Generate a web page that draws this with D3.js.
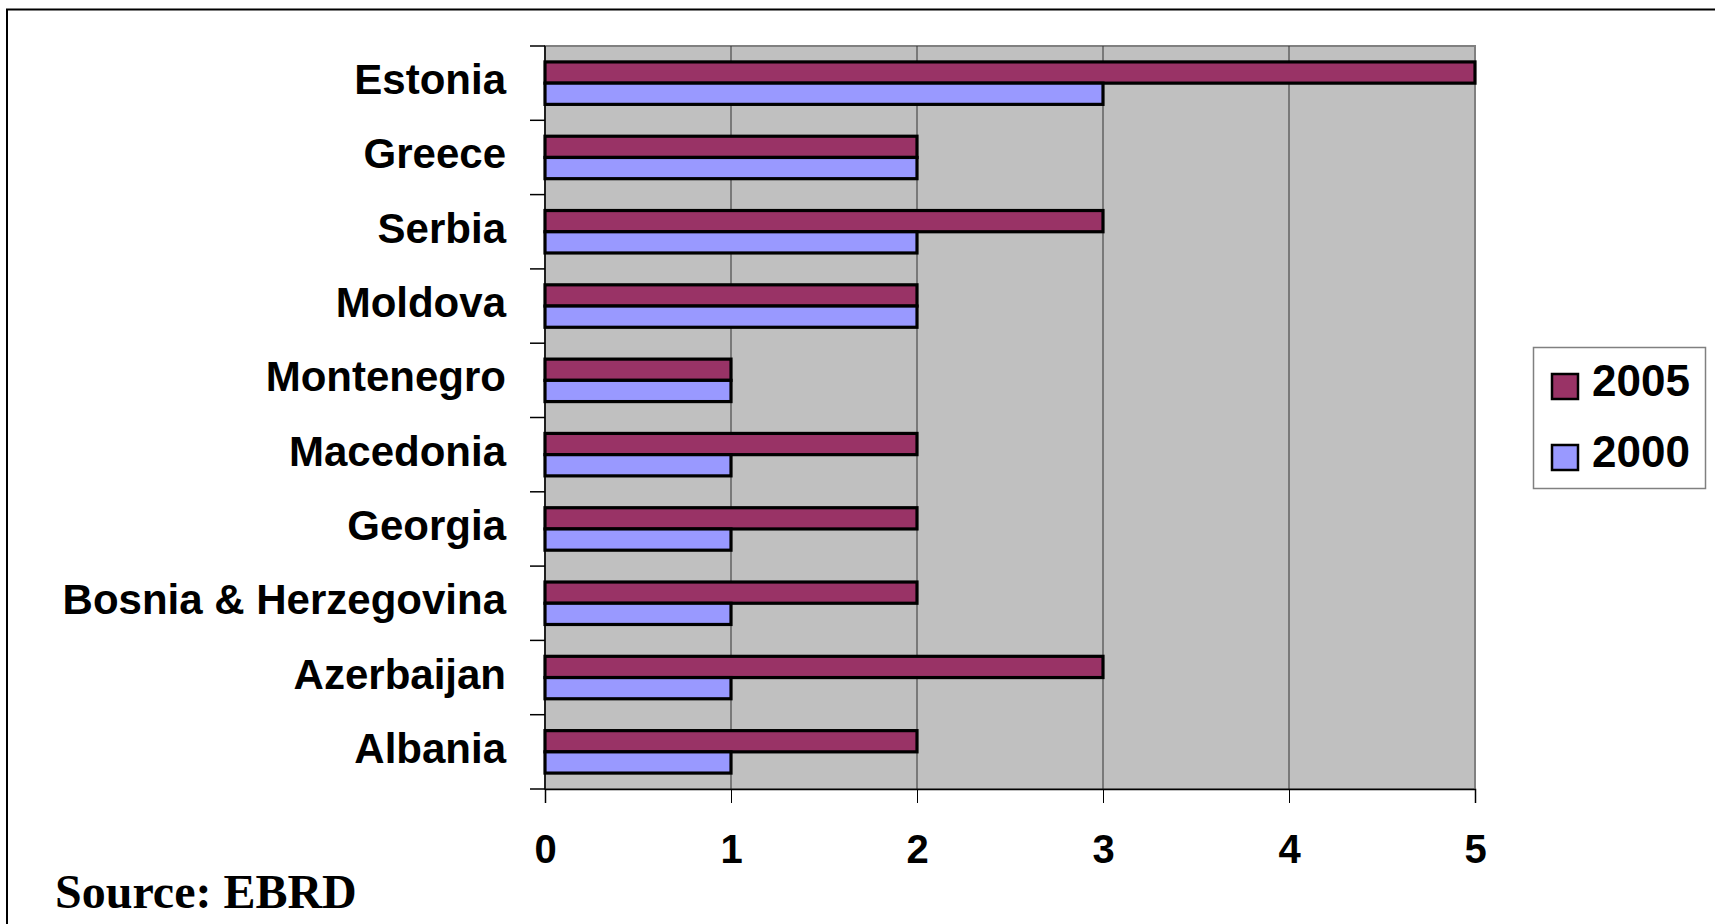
<!DOCTYPE html>
<html>
<head>
<meta charset="utf-8">
<script src="https://cdn.jsdelivr.net/npm/d3@7"></script>
<style>
  html, body { margin: 0; padding: 0; background: #fff; }
  svg { display: block; }
</style>
</head>
<body>
<svg id="chart"></svg>
<script>
// Chart data (top to bottom)
const countries = ["Estonia", "Greece", "Serbia", "Moldova", "Montenegro",
                   "Macedonia", "Georgia", "Bosnia & Herzegovina", "Azerbaijan", "Albania"];
const series = ["2005", "2000"];
const values2005 = [5, 2, 3, 2, 1, 2, 2, 2, 3, 2];
const values2000 = [3, 2, 2, 2, 1, 1, 1, 1, 1, 1];
const xTicks = [0, 1, 2, 3, 4, 5];
const sourceText = "Source: EBRD";

const colors = { "2005": "#993366", "2000": "#9999FF" };

const W = 1715, H = 924;
const plot = { left: 545, top: 46, right: 1475, bottom: 789 };

const svg = d3.select("#chart").attr("width", W).attr("height", H);

// Outer frame (runs off the right and bottom edges)
svg.append("rect")
  .attr("x", 7).attr("y", 9.5)
  .attr("width", W).attr("height", H)
  .attr("fill", "none")
  .attr("stroke", "#000")
  .attr("stroke-width", 2);

// Scales
const x = d3.scaleLinear().domain([0, 5]).range([plot.left, plot.right]);
const y = d3.scaleBand().domain(countries).range([plot.top, plot.bottom]);
const ySub = d3.scaleBand().domain(series).range([0, y.bandwidth()])
  .paddingInner(0).paddingOuter(0.75);

// Plot background
svg.append("rect")
  .attr("x", plot.left).attr("y", plot.top)
  .attr("width", plot.right - plot.left).attr("height", plot.bottom - plot.top)
  .attr("fill", "#C0C0C0")
  .attr("stroke", "#808080")
  .attr("stroke-width", 2);

// Vertical gridlines
svg.append("g").selectAll("line")
  .data(xTicks.slice(1, -1))
  .enter().append("line")
  .attr("x1", d => x(d)).attr("x2", d => x(d))
  .attr("y1", plot.top).attr("y2", plot.bottom)
  .attr("stroke", "#333")
  .attr("stroke-width", 1);

// Bars
const rows = countries.map((c, i) => ({ country: c, "2005": values2005[i], "2000": values2000[i] }));
const groups = svg.append("g").selectAll("g")
  .data(rows)
  .enter().append("g")
  .attr("transform", d => `translate(0,${y(d.country)})`);

groups.selectAll("rect")
  .data(d => series.map(s => ({ key: s, value: d[s] })))
  .enter().append("rect")
  .attr("x", x(0))
  .attr("y", d => ySub(d.key))
  .attr("width", d => x(d.value) - x(0))
  .attr("height", ySub.bandwidth())
  .attr("fill", d => colors[d.key])
  .attr("stroke", "#000")
  .attr("stroke-width", 3.2);

// Y axis: line, ticks at band edges, labels
svg.append("line")
  .attr("x1", plot.left).attr("x2", plot.left)
  .attr("y1", plot.top).attr("y2", plot.bottom)
  .attr("stroke", "#000").attr("stroke-width", 1.5);

const bandEdges = countries.map(c => y(c)).concat([plot.bottom]);
svg.append("g").selectAll("line")
  .data(bandEdges)
  .enter().append("line")
  .attr("x1", plot.left - 15).attr("x2", plot.left)
  .attr("y1", d => d).attr("y2", d => d)
  .attr("stroke", "#000").attr("stroke-width", 1.5);

svg.append("g").selectAll("text")
  .data(countries)
  .enter().append("text")
  .attr("x", 506)
  .attr("y", d => y(d) + y.bandwidth() / 2 + 11)
  .attr("text-anchor", "end")
  .style("font-family", "'Liberation Sans', Arial, sans-serif")
  .style("font-weight", "bold")
  .style("font-size", "42px")
  .text(d => d);

// X axis
const xAxis = svg.append("g")
  .attr("transform", `translate(0,${plot.bottom})`)
  .call(d3.axisBottom(x).tickValues(xTicks).tickSize(14).tickPadding(32).tickFormat(d3.format("d")));
xAxis.select(".domain").attr("stroke", "#000").attr("stroke-width", 1.5);
xAxis.selectAll(".tick line").attr("stroke", "#000").attr("stroke-width", 1);
xAxis.selectAll(".tick text")
  .attr("fill", "#000")
  .style("font-family", "'Liberation Sans', Arial, sans-serif")
  .style("font-weight", "bold")
  .style("font-size", "40px");

// Legend
const legend = svg.append("g");
legend.append("rect")
  .attr("x", 1533.5).attr("y", 347.5)
  .attr("width", 172).attr("height", 141)
  .attr("fill", "#fff")
  .attr("stroke", "#808080")
  .attr("stroke-width", 1.5);

const legendY = d3.scalePoint().domain(series).range([386, 457]);
legend.selectAll("rect.sw")
  .data(series)
  .enter().append("rect")
  .attr("class", "sw")
  .attr("x", 1552).attr("y", d => legendY(d) - 12)
  .attr("width", 26).attr("height", 25)
  .attr("fill", d => colors[d])
  .attr("stroke", "#000")
  .attr("stroke-width", 2.5);

legend.selectAll("text")
  .data(series)
  .enter().append("text")
  .attr("x", 1592)
  .attr("y", d => legendY(d) + 10)
  .style("font-family", "'Liberation Sans', Arial, sans-serif")
  .style("font-weight", "bold")
  .style("font-size", "44px")
  .text(d => d);

// Source note
svg.append("text")
  .attr("x", 55).attr("y", 908)
  .style("font-family", "'Liberation Serif', 'Times New Roman', serif")
  .style("font-weight", "bold")
  .style("font-size", "48px")
  .text(sourceText);
</script>
</body>
</html>
